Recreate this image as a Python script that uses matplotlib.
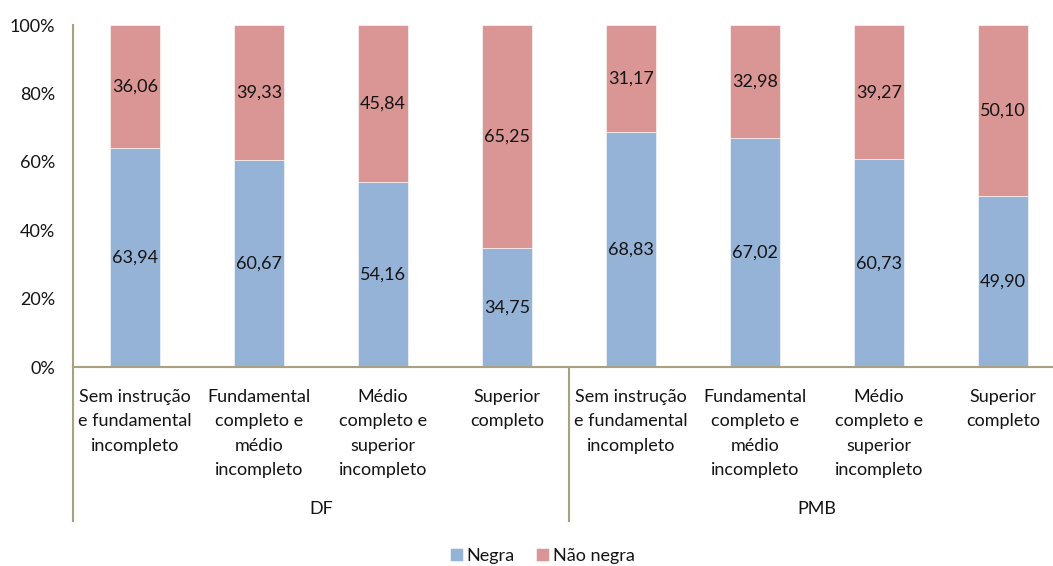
import matplotlib.pyplot as plt
from matplotlib.transforms import blended_transform_factory

CATEGORIES = [
    "Sem instrução\ne fundamental\nincompleto",
    "Fundamental\ncompleto e\nmédio\nincompleto",
    "Médio\ncompleto e\nsuperior\nincompleto",
    "Superior\ncompleto",
]
GROUPS = ["DF", "PMB"]
NEGRA = [63.94, 60.67, 54.16, 34.75, 68.83, 67.02, 60.73, 49.90]
NAO_NEGRA = [36.06, 39.33, 45.84, 65.25, 31.17, 32.98, 39.27, 50.10]

BLUE = "#95b3d7"
RED = "#d99694"
AXIS = "#a8a283"
TEXT = "#141414"
FS = 13

plt.rcParams["font.family"] = ["Lato", "DejaVu Sans"]

fig = plt.figure(figsize=(10.53, 5.66), dpi=100)
ax = fig.add_axes([73 / 1053, 199 / 566, 992 / 1053, 342 / 566])

x = list(range(len(NEGRA)))
ax.bar(x, NEGRA, width=0.4, color=BLUE, edgecolor="white", linewidth=0.4, label="Negra")
ax.bar(x, NAO_NEGRA, width=0.4, bottom=NEGRA, color=RED, edgecolor="white",
       linewidth=0.4, label="Não negra")

for i in x:
    ax.text(i, NEGRA[i] / 2, f"{NEGRA[i]:.2f}".replace(".", ","),
            ha="center", va="center", fontsize=FS, color=TEXT)
    ax.text(i, NEGRA[i] + NAO_NEGRA[i] / 2, f"{NAO_NEGRA[i]:.2f}".replace(".", ","),
            ha="center", va="center", fontsize=FS, color=TEXT)

ax.set_xlim(-0.5, 7.5)
ax.set_ylim(0, 100)
ax.set_yticks([0, 20, 40, 60, 80, 100])
ax.set_yticklabels([f"{v}%" for v in range(0, 101, 20)])
ax.tick_params(axis="y", length=0, pad=13, labelsize=FS, labelcolor=TEXT)
ax.set_xticks([])

for s in ["top", "right"]:
    ax.spines[s].set_visible(False)
ax.spines["left"].set_color(AXIS)
ax.spines["bottom"].set_color(AXIS)
ax.spines["left"].set_linewidth(1.5)
ax.spines["bottom"].set_linewidth(1.5)

trans = blended_transform_factory(ax.transData, ax.transAxes)
for sep in [-0.5, 3.5]:
    ax.plot([sep, sep], [0, -0.45], transform=trans, color=AXIS, lw=1.5,
            clip_on=False)

for g, grp in enumerate(GROUPS):
    for c, cat in enumerate(CATEGORIES):
        ax.text(g * 4 + c, -0.063, cat, transform=trans, ha="center", va="top",
                fontsize=FS, color=TEXT, linespacing=1.66)
    ax.text(g * 4 + 1.5, -0.415, grp, transform=trans, ha="center", va="center",
            fontsize=FS, color=TEXT)

fig.legend(loc="lower center", bbox_to_anchor=(0.515, -0.025), ncol=2, frameon=False,
           fontsize=FS, handlelength=0.7, handleheight=0.7, handletextpad=0.2,
           columnspacing=1.2, labelcolor=TEXT)

fig.savefig("out.png", dpi=100)
